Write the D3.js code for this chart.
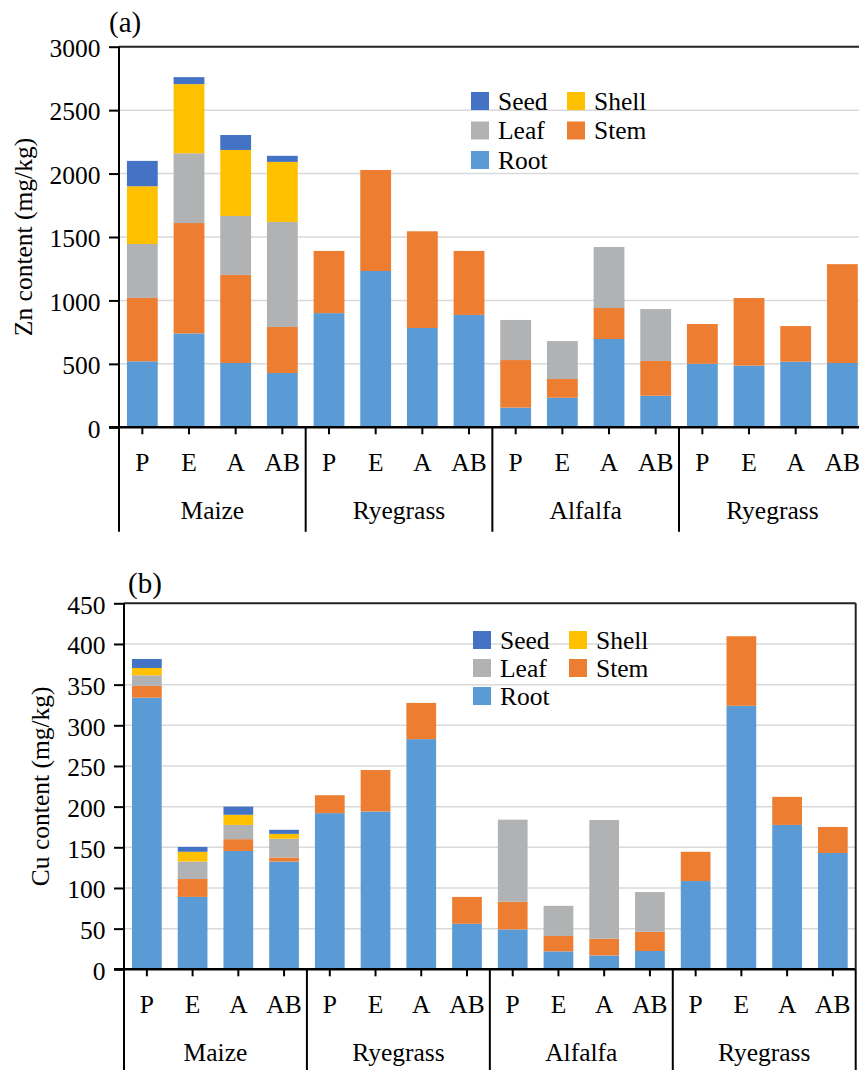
<!DOCTYPE html>
<meta charset="utf-8">
<head>
<style> /* CSS */

body {margin: 0; background: #fff;}

svg text {
  font-family: "Liberation Serif", "Times New Roman", serif;
  fill: #000;
}

.axis path {
  display: none;
}

.axis line {
  stroke: #000;
  stroke-width: 2;
}

.axis text {
  font-size: 25.5px;
}

.grid line {
  stroke: #d9d9d9;
  stroke-width: 1.5;
}

</style>
</head>
<body>

<script src="https://d3js.org/d3.v7.min.js"></script>
<script>

  var serif = "'Liberation Serif', 'Times New Roman', serif";

  // categories on the x axis
  var categories = ["P", "E", "A", "AB", "P", "E", "A", "AB", "P", "E", "A", "AB", "P", "E", "A", "AB"];
  var groups = ["Maize", "Ryegrass", "Alfalfa", "Ryegrass"];

  // plant parts, bottom of stack first
  var parts = ["Root", "Stem", "Leaf", "Shell", "Seed"];
  var legendOrder = ["Seed", "Shell", "Leaf", "Stem", "Root"];

  // Zn content (mg/kg), one value per bar
  var znRoot  = [520, 740, 507, 428, 900, 1232, 783, 886, 155, 233, 696, 249, 501, 486, 517, 507];
  var znStem  = [500, 870, 694, 363, 490, 796, 762, 504, 375, 148, 244, 274, 313, 533, 281, 779];
  var znLeaf  = [425, 550, 465, 828, 0, 0, 0, 0, 316, 299, 481, 409, 0, 0, 0, 0];
  var znShell = [455, 545, 520, 473, 0, 0, 0, 0, 0, 0, 0, 0, 0, 0, 0, 0];
  var znSeed  = [200, 55, 118, 48, 0, 0, 0, 0, 0, 0, 0, 0, 0, 0, 0, 0];
  var znTicks = [0, 500, 1000, 1500, 2000, 2500, 3000];

  // Cu content (mg/kg)
  var cuRoot  = [334, 89, 145.5, 132.5, 192, 194, 283, 56, 49, 22, 17, 22.5, 108.5, 324, 177.5, 143];
  var cuStem  = [14.5, 22, 14.5, 5, 22, 51, 44.5, 33, 34, 19, 20.5, 23.5, 36, 85.5, 34.5, 32];
  var cuLeaf  = [13, 21.5, 17.5, 23, 0, 0, 0, 0, 101, 37, 146, 49, 0, 0, 0, 0];
  var cuShell = [9, 12, 12.5, 6, 0, 0, 0, 0, 0, 0, 0, 0, 0, 0, 0, 0];
  var cuSeed  = [11, 6, 10, 5, 0, 0, 0, 0, 0, 0, 0, 0, 0, 0, 0, 0];
  var cuTicks = [0, 50, 100, 150, 200, 250, 300, 350, 400, 450];

  var colors = {
    Root: "#5b9bd5",
    Stem: "#ed7d31",
    Leaf: "#b1b2b4",
    Shell: "#ffc000",
    Seed: "#4472c4"
  };

  var svg = d3.select("body").append("svg")
      .attr("width", 859)
      .attr("height", 1070)
      .style("font-family", serif);

  // panel (a)
  drawPanel({
    label: "(a)", labelX: 109, labelY: 32,
    yTitle: "Zn content (mg/kg)", yTitleX: 32,
    left: 119, width: 746.7, top: 46.7, bottom: 427.3, pad: 0.34,
    ticks: znTicks,
    values: {Root: znRoot, Stem: znStem, Leaf: znLeaf, Shell: znShell, Seed: znSeed},
    legendX: 471, legendY: 101, legendRow: 29.5
  });

  // panel (b)
  drawPanel({
    label: "(b)", labelX: 128, labelY: 593,
    yTitle: "Cu content (mg/kg)", yTitleX: 49,
    left: 124, width: 731.7, top: 603.3, bottom: 969.3, pad: 0.35,
    ticks: cuTicks,
    values: {Root: cuRoot, Stem: cuStem, Leaf: cuLeaf, Shell: cuShell, Seed: cuSeed},
    legendX: 473, legendY: 640, legendRow: 28
  });

  // axes set their own family, so put the serif face back on every label
  svg.selectAll("text").style("font-family", serif);

  function drawPanel(p) {

    var x = d3.scaleBand()
        .domain(d3.range(categories.length))
        .range([p.left, p.left + p.width])
        .paddingInner(p.pad)
        .paddingOuter(p.pad / 2);

    var y = d3.scaleLinear()
        .domain([0, d3.max(p.ticks)])
        .range([p.bottom, p.top]);

    var g = svg.append("g");
    var groupW = x.step() * 4,
        sepDrop = 104.5;

    // light gridlines (not at 0 or at the top border)
    g.append("g")
        .attr("class", "grid")
      .selectAll("line")
      .data(p.ticks.slice(1, -1))
      .enter().append("line")
        .attr("x1", p.left)
        .attr("x2", p.left + p.width)
        .attr("y1", function(d) { return y(d); })
        .attr("y2", function(d) { return y(d); });

    // stacked bars
    var rows = categories.map(function(c, i) {
      var r = {i: i};
      parts.forEach(function(k) { r[k] = p.values[k][i]; });
      return r;
    });

    var series = d3.stack().keys(parts)(rows);

    g.selectAll(".layer")
      .data(series)
      .enter().append("g")
        .attr("class", "layer")
        .attr("fill", function(d) { return colors[d.key]; })
      .selectAll("rect")
      .data(function(d) { return d; })
      .enter().append("rect")
        .attr("x", function(d) { return x(d.data.i); })
        .attr("width", x.bandwidth())
        .attr("y", function(d) { return y(d[1]); })
        .attr("height", function(d) { return y(d[0]) - y(d[1]); });

    // y axis
    g.append("g")
        .attr("class", "axis")
        .attr("transform", "translate(" + p.left + ",0)")
        .call(d3.axisLeft(y).tickValues(p.ticks).tickFormat(d3.format("d")).tickSize(10).tickPadding(8.5))
      .selectAll("text")
        .attr("dy", "0.38em");

    // x axis with bar labels
    g.append("g")
        .attr("class", "axis")
        .attr("transform", "translate(0," + p.bottom + ")")
        .call(d3.axisBottom(x)
          .tickFormat(function(i) { return categories[i]; })
          .tickSize(7)
          .tickPadding(19));

    // axis lines, top border and group separators
    g.append("line")
        .attr("x1", p.left - 10).attr("x2", p.left + p.width)
        .attr("y1", p.bottom).attr("y2", p.bottom)
        .attr("stroke", "#000").attr("stroke-width", 2.5);

    g.append("line")
        .attr("x1", p.left).attr("x2", p.left + p.width)
        .attr("y1", p.top).attr("y2", p.top)
        .attr("stroke", "#222").attr("stroke-width", 2);

    g.append("line")
        .attr("x1", p.left + p.width).attr("x2", p.left + p.width)
        .attr("y1", p.top).attr("y2", p.bottom)
        .attr("stroke", "#222").attr("stroke-width", 2);

    g.selectAll(".sep")
      .data(d3.range(groups.length + 1))
      .enter().append("line")
        .attr("class", "sep")
        .attr("x1", function(j) { return p.left + j * groupW; })
        .attr("x2", function(j) { return p.left + j * groupW; })
        .attr("y1", function(j) { return j === 0 ? p.top : p.bottom; })
        .attr("y2", p.bottom + sepDrop)
        .attr("stroke", "#000")
        .attr("stroke-width", 2);

    // group names
    g.selectAll(".group")
      .data(groups)
      .enter().append("text")
        .attr("class", "group")
        .attr("x", function(d, j) { return p.left + (j + 0.5) * groupW; })
        .attr("y", p.bottom + 92)
        .attr("text-anchor", "middle")
        .style("font-size", "25.5px")
        .text(function(d) { return d; });

    // y axis title
    g.append("text")
        .attr("transform", "translate(" + p.yTitleX + "," + ((p.top + p.bottom) / 2) + ") rotate(-90)")
        .attr("text-anchor", "middle")
        .style("font-size", "25.5px")
        .text(p.yTitle);

    // panel letter
    g.append("text")
        .attr("x", p.labelX)
        .attr("y", p.labelY)
        .style("font-size", "29px")
        .text(p.label);

    // legend, two columns
    var legend = g.selectAll(".legend")
      .data(legendOrder)
      .enter().append("g")
        .attr("class", "legend")
        .attr("transform", function(d, i) {
          return "translate(" + (p.legendX + (i % 2) * 96) + "," + (p.legendY + Math.floor(i / 2) * p.legendRow) + ")";
        });

    legend.append("rect")
        .attr("x", 0)
        .attr("y", -9)
        .attr("width", 18)
        .attr("height", 18)
        .attr("fill", function(d) { return colors[d]; });

    legend.append("text")
        .attr("x", 27)
        .attr("dy", "0.35em")
        .style("font-size", "25.5px")
        .text(function(d) { return d; });
  }

</script>
</body>
